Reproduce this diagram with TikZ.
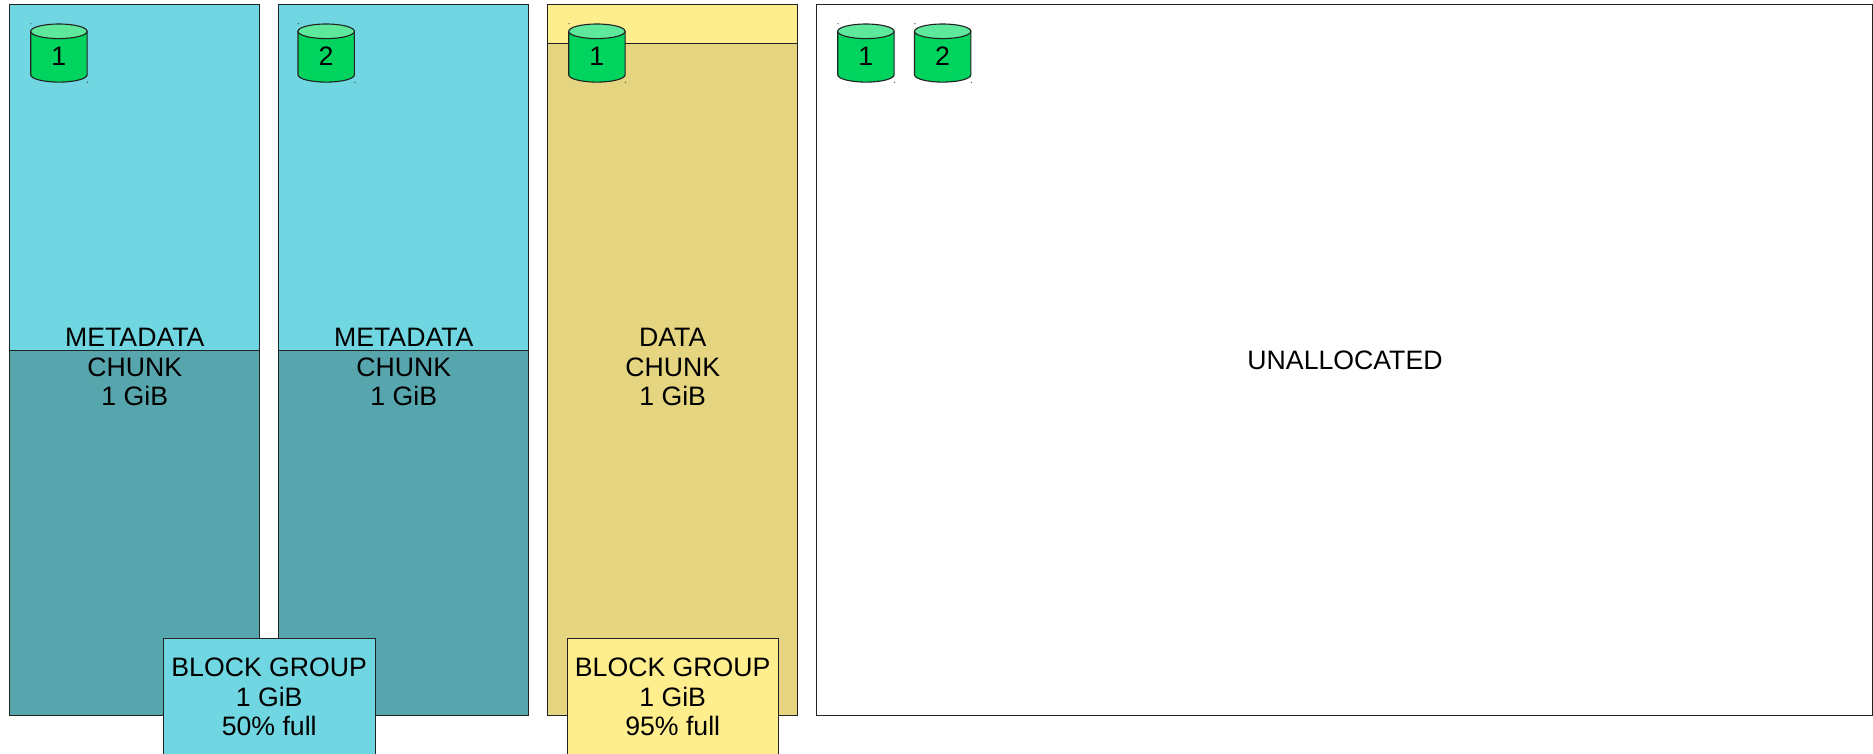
\documentclass[tikz,border=0pt]{standalone}
\usepackage{fontspec}
\setmainfont{Liberation Sans}
\definecolor{metalight}{HTML}{70D6E1}
\definecolor{metadark}{HTML}{57A5AD}
\definecolor{datalight}{HTML}{FFEE8E}
\definecolor{datadark}{HTML}{E5D580}
\definecolor{diskgreen}{HTML}{00D45F}
\definecolor{disktop}{HTML}{5EE89B}
\definecolor{edgeline}{HTML}{222222}
\tikzset{
  panel/.style={draw=edgeline,line width=1pt,anchor=north west,inner sep=0pt,outer sep=0pt},
  label/.style={font=\fontsize{26.67}{29.7}\selectfont,align=center,text=black,inner sep=0pt},
  groupbox/.style={draw=edgeline,line width=1pt,anchor=north west,inner sep=0pt,outer sep=0pt,minimum width=211.5pt,minimum height=130pt},
  disk/.pic={
    \fill[black!70] (0.3,-7.6) circle (0.7);
    \fill[black!70] (56.8,51) circle (0.7);
    \draw[edgeline,line width=1.1pt,fill=diskgreen] (0,0) -- (0,43.5) arc[x radius=28.2,y radius=7.3,start angle=180,end angle=0] -- (56.4,0) -- cycle;
    \draw[edgeline,line width=1.1pt,fill=disktop] (28.2,0) ellipse[x radius=28.2,y radius=7.3];
    \node[label] at (28,25) {\tikzpictext};
  }
}
\begin{document}
\begin{tikzpicture}[x=1pt,y=-1pt]
\useasboundingbox (0,0) rectangle (1873,753);
% chunks
\fill[metalight] (9.7,4.7) rectangle (259.7,350.7);
\fill[metadark] (9.7,350.7) rectangle (259.7,715.7);
\draw[edgeline,line width=1pt] (9.7,350.7) -- (259.7,350.7);
\node[panel,minimum width=250pt,minimum height=711pt] (metaA) at (9.7,4.7) {};
\fill[metalight] (278.4,4.7) rectangle (528.4,350.7);
\fill[metadark] (278.4,350.7) rectangle (528.4,715.7);
\draw[edgeline,line width=1pt] (278.4,350.7) -- (528.4,350.7);
\node[panel,minimum width=250pt,minimum height=711pt] (metaB) at (278.4,4.7) {};
\fill[datalight] (547.3,4.7) rectangle (797.3,43.3);
\fill[datadark] (547.3,43.3) rectangle (797.3,715.7);
\draw[edgeline,line width=1pt] (547.3,43.3) -- (797.3,43.3);
\node[panel,minimum width=250pt,minimum height=711pt] (dataA) at (547.3,4.7) {};
\node[panel,fill=white,minimum width=1055.6pt,minimum height=711pt] (free) at (816.7,4.7) {};
% labels
\node[label] (metaAtext) at (134.8,367) {METADATA\\CHUNK\\1 GiB};
\node[label] (metaBtext) at (403.8,367) {METADATA\\CHUNK\\1 GiB};
\node[label] (dataAtext) at (672.7,367) {DATA\\CHUNK\\1 GiB};
\node[label] (freetext) at (1345,360) {UNALLOCATED};
% disks
\pic[pic text=1] at (30.7,31.3) {disk};
\pic[pic text=2] at (298,31.3) {disk};
\pic[pic text=1] at (568.7,31.3) {disk};
\pic[pic text=1] at (837.7,31.3) {disk};
\pic[pic text=2] at (914.5,31.3) {disk};
% block groups
\node[groupbox,fill=metalight] (groupA) at (163.5,638.7) {};
\node[label] (groupAtext) at (269.2,697) {BLOCK GROUP\\1 GiB\\50\% full};
\node[groupbox,fill=datalight] (groupB) at (567,638.7) {};
\node[label] (groupBtext) at (672.7,697) {BLOCK GROUP\\1 GiB\\95\% full};
\end{tikzpicture}
\end{document}
